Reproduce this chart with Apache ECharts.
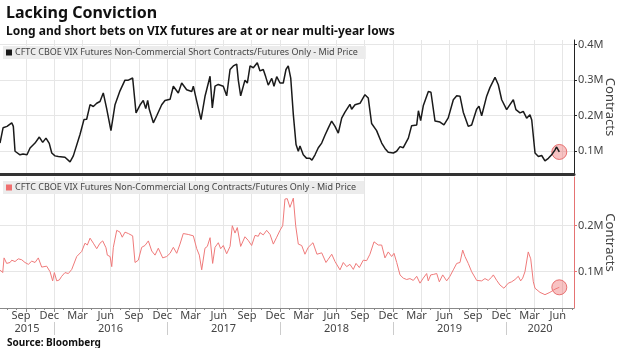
<!DOCTYPE html>
<html><head><meta charset="utf-8">
<script src="https://cdn.jsdelivr.net/npm/echarts@6/dist/echarts.min.js"></script>
<style>html,body{margin:0;padding:0;background:#fff}#c{width:620px;height:348px}</style>
</head><body><div id="c"></div>
<script>
// Time in decimal years, values in millions of contracts
const shortT = [2015.522,2015.549,2015.584,2015.626,2015.640,2015.655,2015.699,2015.726,2015.743,2015.761,2015.788,2015.832,2015.870,2015.900,2015.929,2015.958,2015.980,2016.009,2016.038,2016.097,2016.142,2016.171,2016.230,2016.265,2016.289,2016.319,2016.348,2016.378,2016.407,2016.436,2016.466,2016.504,2016.540,2016.584,2016.628,2016.658,2016.696,2016.726,2016.761,2016.790,2016.812,2016.829,2016.843,2016.879,2016.909,2016.953,2016.982,2017.027,2017.056,2017.100,2017.130,2017.174,2017.219,2017.233,2017.263,2017.301,2017.336,2017.381,2017.401,2017.425,2017.454,2017.498,2017.528,2017.558,2017.587,2017.617,2017.631,2017.652,2017.690,2017.711,2017.735,2017.764,2017.799,2017.823,2017.852,2017.873,2017.896,2017.927,2017.947,2017.971,2018.000,2018.029,2018.053,2018.073,2018.095,2018.118,2018.142,2018.162,2018.177,2018.206,2018.236,2018.265,2018.283,2018.310,2018.339,2018.369,2018.398,2018.427,2018.457,2018.487,2018.516,2018.546,2018.575,2018.619,2018.634,2018.664,2018.708,2018.752,2018.781,2018.811,2018.855,2018.900,2018.929,2018.958,2019.003,2019.032,2019.062,2019.091,2019.136,2019.165,2019.210,2019.225,2019.245,2019.268,2019.313,2019.336,2019.372,2019.416,2019.451,2019.489,2019.534,2019.564,2019.593,2019.622,2019.666,2019.696,2019.740,2019.761,2019.785,2019.829,2019.858,2019.903,2019.932,2019.962,2020.006,2020.035,2020.065,2020.088,2020.124,2020.153,2020.183,2020.212,2020.228,2020.257,2020.287,2020.316,2020.345,2020.375,2020.404,2020.434,2020.448,2020.472];
const shortV = [0.123,0.166,0.170,0.180,0.170,0.100,0.090,0.092,0.087,0.090,0.109,0.123,0.140,0.125,0.137,0.122,0.095,0.087,0.085,0.083,0.070,0.087,0.147,0.189,0.190,0.231,0.226,0.235,0.240,0.264,0.220,0.158,0.231,0.270,0.300,0.300,0.306,0.208,0.230,0.243,0.220,0.243,0.218,0.180,0.200,0.231,0.243,0.246,0.283,0.264,0.292,0.273,0.268,0.283,0.241,0.189,0.254,0.311,0.222,0.283,0.288,0.283,0.256,0.330,0.340,0.345,0.300,0.256,0.300,0.292,0.340,0.335,0.349,0.326,0.330,0.310,0.286,0.305,0.283,0.310,0.292,0.292,0.330,0.340,0.306,0.203,0.119,0.100,0.115,0.090,0.080,0.080,0.075,0.090,0.110,0.123,0.145,0.165,0.185,0.170,0.151,0.193,0.210,0.232,0.218,0.231,0.235,0.259,0.250,0.178,0.158,0.123,0.108,0.097,0.095,0.100,0.113,0.110,0.137,0.172,0.174,0.214,0.186,0.228,0.268,0.266,0.185,0.182,0.174,0.194,0.245,0.256,0.255,0.210,0.170,0.174,0.218,0.227,0.200,0.255,0.279,0.308,0.287,0.245,0.217,0.231,0.245,0.217,0.208,0.212,0.193,0.203,0.188,0.095,0.085,0.088,0.073,0.080,0.090,0.104,0.112,0.098];
const longT = [2015.522,2015.546,2015.558,2015.581,2015.611,2015.626,2015.655,2015.684,2015.714,2015.743,2015.773,2015.803,2015.832,2015.861,2015.876,2015.891,2015.935,2015.965,2015.988,2016.003,2016.024,2016.047,2016.068,2016.097,2016.127,2016.157,2016.201,2016.245,2016.274,2016.295,2016.319,2016.348,2016.378,2016.407,2016.431,2016.460,2016.472,2016.496,2016.511,2016.525,2016.555,2016.584,2016.604,2016.628,2016.658,2016.696,2016.717,2016.746,2016.776,2016.805,2016.835,2016.865,2016.894,2016.923,2016.962,2016.997,2017.027,2017.056,2017.086,2017.115,2017.144,2017.188,2017.233,2017.263,2017.286,2017.307,2017.336,2017.357,2017.381,2017.404,2017.425,2017.454,2017.475,2017.498,2017.528,2017.558,2017.578,2017.602,2017.622,2017.652,2017.690,2017.719,2017.749,2017.779,2017.808,2017.823,2017.852,2017.882,2017.912,2017.941,2017.971,2018.000,2018.024,2018.044,2018.064,2018.088,2018.118,2018.139,2018.162,2018.192,2018.221,2018.250,2018.292,2018.327,2018.369,2018.407,2018.427,2018.458,2018.487,2018.531,2018.560,2018.590,2018.619,2018.649,2018.673,2018.702,2018.737,2018.767,2018.796,2018.832,2018.870,2018.900,2018.929,2018.958,2018.988,2019.009,2019.033,2019.062,2019.091,2019.121,2019.150,2019.180,2019.210,2019.239,2019.268,2019.298,2019.312,2019.334,2019.357,2019.387,2019.410,2019.440,2019.475,2019.504,2019.534,2019.564,2019.593,2019.617,2019.637,2019.666,2019.696,2019.741,2019.785,2019.814,2019.843,2019.873,2019.888,2019.918,2019.947,2019.982,2020.020,2020.050,2020.080,2020.109,2020.130,2020.148,2020.168,2020.197,2020.219,2020.242,2020.257,2020.301,2020.345,2020.389,2020.434,2020.472];
const longV = [0.104,0.098,0.130,0.118,0.120,0.125,0.122,0.128,0.126,0.120,0.116,0.123,0.120,0.130,0.133,0.110,0.112,0.100,0.080,0.098,0.080,0.082,0.090,0.098,0.096,0.105,0.133,0.144,0.162,0.158,0.173,0.162,0.150,0.162,0.167,0.152,0.136,0.133,0.111,0.153,0.190,0.186,0.175,0.186,0.183,0.178,0.120,0.125,0.153,0.157,0.167,0.145,0.136,0.151,0.130,0.133,0.140,0.153,0.140,0.160,0.183,0.181,0.178,0.150,0.136,0.104,0.151,0.155,0.174,0.118,0.153,0.163,0.150,0.157,0.139,0.155,0.200,0.184,0.196,0.155,0.176,0.168,0.157,0.179,0.177,0.185,0.180,0.190,0.181,0.160,0.175,0.190,0.200,0.258,0.259,0.240,0.260,0.200,0.160,0.157,0.138,0.153,0.163,0.138,0.141,0.120,0.127,0.138,0.122,0.104,0.120,0.111,0.116,0.105,0.118,0.109,0.125,0.124,0.138,0.165,0.158,0.158,0.130,0.143,0.133,0.140,0.120,0.093,0.086,0.083,0.085,0.081,0.090,0.075,0.086,0.096,0.080,0.093,0.094,0.096,0.078,0.093,0.080,0.090,0.104,0.118,0.120,0.147,0.133,0.118,0.100,0.081,0.080,0.085,0.081,0.088,0.093,0.081,0.071,0.064,0.075,0.078,0.083,0.090,0.080,0.086,0.100,0.143,0.128,0.078,0.064,0.055,0.050,0.055,0.062,0.066];

const monthNames = ['Jan','Feb','Mar','Apr','May','Jun','Jul','Aug','Sep','Oct','Nov','Dec'];
const yearLabels = ['2015','2016','2017','2018','2019','2020'];
const topTicks = [0.1, 0.2, 0.3, 0.4];
const bottomTicks = [0.1, 0.2];
const shortName = 'CFTC CBOE VIX Futures Non-Commercial Short Contracts/Futures Only - Mid Price';
const longName = 'CFTC CBOE VIX Futures Non-Commercial Long Contracts/Futures Only - Mid Price';

const X_MIN = 2015.522, X_MAX = 2020.602;
const quarters = [], monthMids = [], months = [];
for (let y = 2015; y <= 2020; y++) {
  for (let m = 0; m < 12; m++) {
    const v = y + m / 12;
    if (v > X_MIN && v < X_MAX) { months.push(v); if (m % 3 === 0) quarters.push(v); }
    const mid = y + (m + 0.5) / 12;
    if (m % 3 === 2 && mid > X_MIN && mid < X_MAX) monthMids.push(mid);
  }
}
const yearBounds = [2016, 2017, 2018, 2019, 2020];
const yearMids = yearLabels.map(s => {
  const y = +s; const a = Math.max(y, X_MIN), b = Math.min(y + 1, X_MAX); return (a + b) / 2;
});

const FONT = 'Noto Sans';
const grid = '#e6e6e6';
const labelColor = '#444';

const chart = echarts.init(document.getElementById('c'), null, {renderer: 'canvas'});
chart.setOption({
  animation: false,
  textStyle: {fontFamily: FONT},
  title: [
    {text: 'Lacking Conviction', left: 1, top: 0, textStyle: {fontSize: 16, fontWeight: 'bold', color: '#111', fontFamily: FONT}},
    {text: 'Long and short bets on VIX futures are at or near multi-year lows', left: 1, top: 21, textStyle: {fontSize: 12, fontWeight: 'bold', color: '#111', fontFamily: FONT}},
    {text: 'Source: Bloomberg', left: 2, top: 333, textStyle: {fontSize: 10, fontWeight: 'bold', color: '#111', fontFamily: FONT}}
  ],
  legend: [
    {data: [{name: shortName, icon: 'rect'}], left: 3, top: 46, itemWidth: 6, itemHeight: 6, backgroundColor: '#ececec', padding: [2, 8, 2, 3], selectedMode: false, textStyle: {fontSize: 9, color: '#444', fontFamily: FONT, padding: [0, 0, 0, -2]}},
    {data: [{name: longName, icon: 'rect'}], left: 3, top: 181, itemWidth: 6, itemHeight: 6, backgroundColor: '#ececec', padding: [2, 8, 2, 3], selectedMode: false, textStyle: {fontSize: 9, color: '#444', fontFamily: FONT, padding: [0, 0, 0, -2]}}
  ],
  grid: [
    {left: 0, right: 46, top: 40, height: 134, containLabel: false, outerBoundsMode: 'none'},
    {left: 0, right: 46, top: 177, height: 131, containLabel: false, outerBoundsMode: 'none'}
  ],
  xAxis: [
    {gridIndex: 0, type: 'value', position: 'bottom', min: X_MIN, max: X_MAX,
     axisLine: {show: true, onZero: false, lineStyle: {color: '#333', width: 3}},
     axisTick: {show: false, customValues: quarters}, axisLabel: {show: false},
     splitLine: {show: true, lineStyle: {color: grid}}},
    {gridIndex: 1, type: 'value', position: 'bottom', min: X_MIN, max: X_MAX,
     axisLine: {show: true, onZero: false, lineStyle: {color: '#888'}},
     axisTick: {show: true, customValues: quarters, length: 4, lineStyle: {color: '#888'}},
     axisLabel: {show: true, customValues: monthMids, margin: 2, fontSize: 11, color: labelColor, fontFamily: FONT,
       formatter: v => monthNames[Math.round((v - Math.floor(v)) * 12 - 0.5)]},
     splitLine: {show: true, lineStyle: {color: grid}}},
    {gridIndex: 1, type: 'value', position: 'bottom', min: X_MIN, max: X_MAX, offset: 14,
     axisLine: {show: false, onZero: false},
     axisTick: {show: true, customValues: yearBounds, length: 13, lineStyle: {color: '#ccc'}},
     axisLabel: {show: true, customValues: yearMids, margin: 1, fontSize: 11, color: labelColor, fontFamily: FONT,
       formatter: v => String(Math.floor(v))},
     splitLine: {show: false}},
    {gridIndex: 1, type: 'value', position: 'bottom', min: X_MIN, max: X_MAX,
     axisLine: {show: false, onZero: false},
     axisTick: {show: true, customValues: months, length: 2, lineStyle: {color: '#888'}},
     axisLabel: {show: false}, splitLine: {show: false}}
  ],
  yAxis: [
    {gridIndex: 0, type: 'value', position: 'right', min: 0.036, max: 0.413,
     axisLine: {show: true, lineStyle: {color: '#222'}},
     axisTick: {show: true, customValues: topTicks, length: 3, lineStyle: {color: '#222'}},
     axisLabel: {customValues: topTicks, margin: 4, fontSize: 11, color: labelColor, fontFamily: FONT, formatter: v => v.toFixed(1) + 'M'},
     splitLine: {show: true, lineStyle: {color: grid}},
     name: 'Contracts', nameLocation: 'middle', nameRotate: -90, nameGap: 29, nameMoveOverlap: false,
     nameTextStyle: {fontSize: 13, color: labelColor, fontFamily: FONT}},
    {gridIndex: 1, type: 'value', position: 'right', min: 0.021, max: 0.306,
     axisLine: {show: true, lineStyle: {color: '#e57373'}},
     axisTick: {show: true, customValues: bottomTicks, length: 3, lineStyle: {color: '#e57373'}},
     axisLabel: {customValues: bottomTicks, margin: 4, fontSize: 11, color: labelColor, fontFamily: FONT, formatter: v => v.toFixed(1) + 'M'},
     splitLine: {show: true, lineStyle: {color: grid}},
     name: 'Contracts', nameLocation: 'middle', nameRotate: -90, nameGap: 29, nameMoveOverlap: false,
     nameTextStyle: {fontSize: 13, color: labelColor, fontFamily: FONT}}
  ],
  series: [
    {name: shortName, type: 'line', xAxisIndex: 0, yAxisIndex: 0, z: 3, showSymbol: false,
     data: shortT.map((t, i) => [t, shortV[i]]),
     itemStyle: {color: '#1a1a1a'}, lineStyle: {color: '#1a1a1a', width: 1.5}},
    {name: longName, type: 'line', xAxisIndex: 1, yAxisIndex: 1, z: 3, showSymbol: false,
     data: longT.map((t, i) => [t, longV[i]]),
     itemStyle: {color: '#ef6f6f'}, lineStyle: {color: '#ef7a7a', width: 1}},
    {type: 'scatter', xAxisIndex: 0, yAxisIndex: 0, z: 2, symbolSize: 15,
     data: [[shortT[shortT.length - 1], shortV[shortV.length - 1]]],
     itemStyle: {color: 'rgba(236,90,90,0.45)', borderColor: '#e25555', borderWidth: 1}},
    {type: 'scatter', xAxisIndex: 1, yAxisIndex: 1, z: 2, symbolSize: 15,
     data: [[longT[longT.length - 1], longV[longV.length - 1]]],
     itemStyle: {color: 'rgba(236,90,90,0.45)', borderColor: '#e25555', borderWidth: 1}}
  ]
});
</script></body></html>
